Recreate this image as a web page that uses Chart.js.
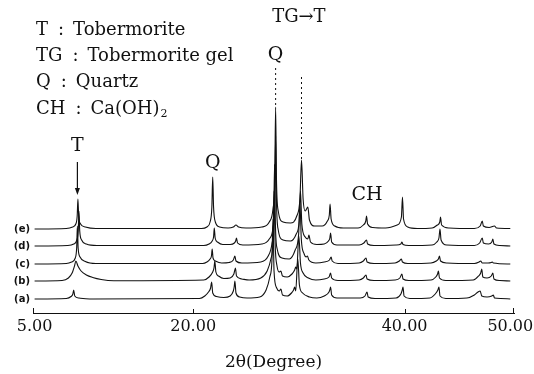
<!DOCTYPE html>
<html>
<head>
<meta charset="utf-8">
<script src="https://cdn.jsdelivr.net/npm/chart.js@4/dist/chart.umd.min.js"></script>
<style>
  html, body { margin: 0; padding: 0; background: #fff; }
  #xrd { display: block; }
</style>
</head>
<body>
<canvas id="xrd" width="534" height="374"></canvas>
<script>
// XRD patterns, 2theta (deg) vs intensity above each trace's own baseline
const sampleNames = ['(a)', '(b)', '(c)', '(d)', '(e)'];
const traceOffsets = [14, 32, 49, 67, 84];
const tickValues = [5, 20, 40, 50];

const traceA = [[5,0],[8.0,0.5],[8.45,2.5],[8.62,5],[8.7,9],[8.8,3],[9.2,1],[10.2,0],
  [20.6,0.5],[21.1,3],[21.45,7],[21.65,11],[21.75,17],[21.85,6],[22.2,2.5],[22.9,1.5],[23.5,3],[23.8,8],[23.88,12],[23.95,18],[24.05,6],[24.4,2],[25.1,1],
  [26.3,2],[26.9,9],[27.25,22],[27.45,38],[27.55,80],[27.65,28],[27.9,11],[28.15,8],[28.3,10],[28.45,4],[28.9,3],[29.3,6],[29.5,9],[29.6,12],[29.7,8],[29.9,40],[30.05,14],[30.35,6],[31.0,2],[31.7,1],
  [32.4,3],[32.85,7],[32.95,10],[33.0,12],[33.1,4],[33.6,1],[35.8,1],[36.25,3],[36.45,7],[36.55,2],[37.2,0.5],[39.2,1],[39.65,5],[39.78,9],[39.85,12],[39.95,3],[40.5,0.5],
  [42.4,1],[42.9,5],[43.15,9],[43.25,12],[43.35,3],[43.9,0.5],[45.9,1],[46.6,4],[46.95,7],[47.15,8],[47.3,3],[47.8,2],[48.25,3],[48.4,4],[48.5,1],[49.1,0.5],[50,0]];
const traceB = [[5,0],[7.6,0.5],[8.2,3],[8.55,8],[8.8,16],[8.9,20],[9.1,15],[9.4,10],[9.9,6],[10.5,3.5],[11.3,1.5],[12.5,0.3],
  [21.0,1],[21.5,4],[21.85,9],[21.97,13],[22.05,20],[22.15,9],[22.4,5],[22.9,2.5],[23.5,3],[23.85,7],[24.0,13],[24.1,5],[24.6,2],[25.3,1],
  [26.4,3],[27.0,10],[27.35,22],[27.55,40],[27.65,90],[27.75,38],[27.95,14],[28.15,9],[28.3,10],[28.45,5],[28.9,4],[29.35,7],[29.6,11],[29.7,14],[29.8,12],[30.0,45],[30.15,18],[30.4,8],[30.9,3],[31.6,1],
  [32.4,2],[32.85,4],[33.0,8],[33.1,3],[33.7,0.5],[35.7,1],[36.1,3],[36.35,6],[36.45,2],[37.1,0.5],[39.1,1],[39.55,3],[39.75,7],[39.85,2],[40.4,0.5],
  [42.5,1],[42.95,4],[43.12,7],[43.2,10],[43.3,3],[43.9,0.5],[46.5,1],[47.0,5],[47.2,8],[47.3,12],[47.4,4],[47.8,3],[48.2,5],[48.35,8],[48.45,2],[49.0,0.5],[50,0]];
const traceC = [[5,0],[8.0,0.5],[8.5,2],[8.85,6],[8.98,16],[9.05,38],[9.12,16],[9.3,7],[9.8,2.5],[10.8,0.5],
  [20.9,0.5],[21.3,2],[21.6,5],[21.73,8],[21.8,15],[21.88,6],[22.1,3],[22.7,1],[23.4,1.5],[23.8,4],[23.95,8],[24.05,3],[24.6,1],
  [26.4,2],[27.1,8],[27.45,20],[27.62,42],[27.7,100],[27.78,40],[27.95,15],[28.4,6],[29.1,5],[29.65,14],[29.98,30],[30.1,60],[30.23,25],[30.5,10],[30.7,7],[30.8,8],[30.95,4],[31.6,1],
  [32.4,2],[32.9,4],[33.05,7],[33.15,3],[33.7,0.5],[35.7,1],[36.1,3],[36.35,6],[36.45,2],[37.1,0.5],[39.1,1],[39.5,3],[39.7,5],[39.8,2],[40.3,0.5],
  [42.5,1],[43.0,3],[43.2,5],[43.3,8],[43.4,3],[44.0,1],[46.6,0.5],[47.05,2],[47.2,3],[47.35,1],[47.9,1],[48.2,1.5],[48.3,2],[48.4,1],[50,0]];
const traceD = [[5,0],[8.1,0.5],[8.7,2],[9.0,6],[9.13,15],[9.2,35],[9.27,15],[9.45,6],[9.9,2],[10.9,0.5],
  [21.0,0.5],[21.5,2],[21.8,5],[21.93,9],[22.0,18],[22.08,8],[22.3,4],[22.8,1.5],[23.5,1.5],[23.9,3],[24.02,5],[24.1,8],[24.2,3],[24.7,1],
  [26.5,2],[27.2,7],[27.55,18],[27.72,45],[27.8,110],[27.88,45],[28.05,16],[28.5,6],[29.2,5],[29.75,12],[30.03,25],[30.15,55],[30.28,22],[30.6,9],[30.85,7],[30.95,11],[31.1,4],[31.7,1.5],
  [32.4,2],[32.8,5],[32.93,8],[33.0,13],[33.1,4],[33.6,1],[35.7,1],[36.15,3],[36.4,6],[36.5,2],[37.1,0.5],[39.2,1],[39.65,2],[39.75,4],[39.85,1.5],[40.4,0.5],
  [42.6,1],[43.05,4],[43.25,8],[43.35,17],[43.45,6],[44.0,1],[46.6,0.5],[47.1,3],[47.35,8],[47.45,3],[47.95,2],[48.25,4],[48.35,7],[48.45,2],[49.0,0.5],[50,0]];
const traceE = [[5,0],[8.0,0.5],[8.6,2],[8.9,5],[9.03,13],[9.1,30],[9.17,13],[9.35,5],[9.8,2],[10.8,0.5],
  [20.8,0.5],[21.3,2],[21.6,7],[21.77,22],[21.85,52],[21.93,22],[22.1,7],[22.5,2],[23.3,1],[23.8,2],[24.05,4],[24.3,2],[25,1],
  [26.5,2],[27.2,7],[27.55,20],[27.72,50],[27.8,122],[27.88,50],[28.05,18],[28.5,7],[29.2,6],[29.8,13],[30.1,30],[30.25,69],[30.4,30],[30.6,18],[30.85,22],[31.0,9],[31.5,3],
  [32.2,3],[32.7,8],[32.88,14],[32.95,25],[33.05,10],[33.4,3],[34.2,1],[35.6,1],[36.1,4],[36.33,8],[36.4,13],[36.5,5],[37,1.5],[38.2,1],[39.3,4],[39.7,12],[39.8,32],[39.9,10],[40.3,2],[41.2,0.5],
  [42.6,1],[43.1,4],[43.33,7],[43.4,12],[43.5,4],[44.2,1],[46.6,0.5],[47.15,3],[47.35,8],[47.45,3],[48.0,1.5],[48.5,3],[48.7,1],[50,0.5]];

const traces = [traceA, traceB, traceC, traceD, traceE];

// phase key at top left
const keySymbols = ['T', 'TG', 'Q', 'CH'];
const keyNames = ['Tobermorite', 'Tobermorite gel', 'Quartz', 'Ca(OH)'];

// peak annotations: text, 2theta, height on the stacked scale
const peakTags = [
  { text: 'T', x: 9.05, y: 167, arrowFrom: 151, arrowTo: 118 },
  { text: 'Q', x: 21.85, y: 150 },
  { text: 'Q', x: 27.8, y: 258, dotFrom: 245, dotTo: 206 },
  { text: 'TG\u2192T', x: 30.0, y: 296, size: 18 },
  { text: 'CH', x: 36.45, y: 118 }
];
const tgDotX = 30.25, tgDotFrom = 236, tgDotTo = 153;

const serif = '"DejaVu Serif", "Liberation Serif", serif';

const annotate = {
  id: 'annotate',
  afterDatasetsDraw(chart) {
    const ctx = chart.ctx;
    const xs = chart.scales.x, ys = chart.scales.y;
    ctx.save();
    ctx.fillStyle = '#111';
    ctx.strokeStyle = '#111';
    ctx.textBaseline = 'middle';

    // key: symbol, colon, name
    ctx.textAlign = 'left';
    keySymbols.forEach((s, i) => {
      const y = 30 + i * 26.3;
      ctx.font = '18px ' + serif;
      let x = 36;
      ctx.fillText(s, x, y);
      x += ctx.measureText(s).width + 10;
      ctx.fillText(':', x, y);
      x += ctx.measureText(':').width + 9;
      ctx.fillText(keyNames[i], x, y);
      if (i === 3) {
        const w = ctx.measureText(keyNames[i]).width;
        ctx.font = '11px ' + serif;
        ctx.fillText('2', x + w + 1, y + 5);
      }
    });

    // peak labels
    ctx.textAlign = 'center';
    peakTags.forEach(p => {
      const px = xs.getPixelForValue(p.x);
      ctx.font = (p.size || 19) + 'px ' + serif;
      ctx.fillText(p.text, px, ys.getPixelForValue(p.y));
      if (p.arrowFrom !== undefined) {
        const y1 = ys.getPixelForValue(p.arrowFrom), y2 = ys.getPixelForValue(p.arrowTo);
        ctx.lineWidth = 1.2;
        ctx.beginPath(); ctx.moveTo(px, y1); ctx.lineTo(px, y2 - 5); ctx.stroke();
        ctx.beginPath(); ctx.moveTo(px - 2.5, y2 - 7); ctx.lineTo(px + 2.5, y2 - 7); ctx.lineTo(px, y2); ctx.closePath(); ctx.fill();
      }
      if (p.dotFrom !== undefined) {
        ctx.setLineDash([2, 3]);
        ctx.lineWidth = 1;
        ctx.beginPath(); ctx.moveTo(px, ys.getPixelForValue(p.dotFrom)); ctx.lineTo(px, ys.getPixelForValue(p.dotTo)); ctx.stroke();
        ctx.setLineDash([]);
      }
    });
    const tx = xs.getPixelForValue(tgDotX);
    ctx.lineWidth = 1;
    ctx.setLineDash([2, 3]);
    ctx.beginPath(); ctx.moveTo(tx, ys.getPixelForValue(tgDotFrom)); ctx.lineTo(tx, ys.getPixelForValue(tgDotTo)); ctx.stroke();
    ctx.setLineDash([]);

    // sample names left of each trace
    ctx.font = 'bold 10px "DejaVu Sans", sans-serif';
    ctx.textAlign = 'right';
    sampleNames.forEach((n, i) => {
      ctx.fillText(n, 30, ys.getPixelForValue(traceOffsets[i]));
    });

    // small upward ticks on the axis line, plus turned-up ends
    const yb = ys.getPixelForValue(0);
    ctx.lineWidth = 1;
    tickValues.slice(1, 3).forEach(v => {
      const px = Math.round(xs.getPixelForValue(v)) + 0.5;
      ctx.beginPath(); ctx.moveTo(px, yb); ctx.lineTo(px, yb - 4); ctx.stroke();
    });
    [xs.left + 0.5, xs.right - 0.5].forEach(px => {
      ctx.beginPath(); ctx.moveTo(px, yb); ctx.lineTo(px, yb - 5); ctx.stroke();
    });
    ctx.restore();
  }
};

new Chart(document.getElementById('xrd'), {
  type: 'line',
  data: {
    datasets: traces.map((pts, i) => ({
      label: sampleNames[i],
      data: pts.map(p => ({ x: p[0], y: traceOffsets[i] + p[1] })),
      borderColor: '#111',
      borderWidth: 1.1,
      pointRadius: 0,
      cubicInterpolationMode: 'monotone',
      fill: false
    }))
  },
  options: {
    responsive: false,
    animation: false,
    layout: { padding: { left: 33, right: 20, top: 0, bottom: 0 } },
    plugins: { legend: { display: false }, tooltip: { enabled: false } },
    scales: {
      x: {
        type: 'linear',
        min: 4.85, max: 50.35,
        afterBuildTicks: s => { s.ticks = tickValues.map(v => ({ value: v })); },
        afterFit: s => { s.height = 61; s.paddingLeft = 0; s.paddingRight = 0; },
        grid: { display: false, drawTicks: false },
        border: { display: true, color: '#111', width: 1 },
        ticks: {
          color: '#111', padding: 4, maxRotation: 0, autoSkip: false,
          font: { family: serif, size: 16 },
          callback: v => v.toFixed(2)
        },
        title: {
          display: true, text: '2\u03b8(Degree)', color: '#111',
          font: { family: serif, size: 17 }, padding: { top: 4, bottom: 1 }
        }
      },
      y: { display: false, min: 0, max: 313 }
    }
  },
  plugins: [annotate]
});
</script>
</body>
</html>
